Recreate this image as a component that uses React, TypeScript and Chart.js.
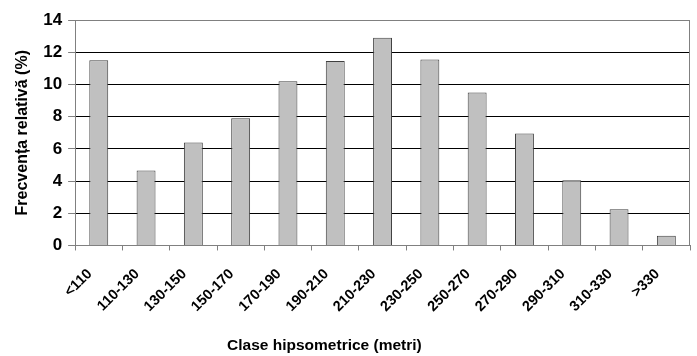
import React, { useEffect, useRef } from "react";
import { Chart, registerables } from "chart.js";

Chart.register(...registerables);

const categories = ["<110", "110-130", "130-150", "150-170", "170-190", "190-210", "210-230", "230-250", "250-270", "270-290", "290-310", "310-330", ">330"];
const frequencies = [11.5, 4.65, 6.4, 7.9, 10.2, 11.45, 12.9, 11.55, 9.5, 6.95, 4.05, 2.25, 0.6];
const yTicks = [0, 2, 4, 6, 8, 10, 12, 14];
const xTitle = "Clase hipsometrice (metri)";
const yTitle = "Frecvența relativă (%)";

const FONT = "'Liberation Sans', Arial, sans-serif";

const frame = {
  id: "frame",
  afterDraw(chart: any) {
    const { ctx, chartArea } = chart;
    ctx.save();
    ctx.strokeStyle = "#808080";
    ctx.lineWidth = 1;
    ctx.beginPath();
    ctx.moveTo(chartArea.left, chartArea.top + 0.5);
    ctx.lineTo(chartArea.right - 0.5, chartArea.top + 0.5);
    ctx.lineTo(chartArea.right - 0.5, chartArea.bottom);
    ctx.stroke();
    ctx.restore();
  },
};

export default function App() {
  const ref = useRef<HTMLCanvasElement>(null);
  useEffect(() => {
    document.body.style.margin = "0";
    const chart = new Chart(ref.current!, {
      type: "bar",
      data: {
        labels: categories,
        datasets: [
          {
            data: frequencies,
            backgroundColor: "#c0c0c0",
            borderColor: "#404040",
            borderWidth: 1,
            categoryPercentage: 1,
            barPercentage: 0.4,
          },
        ],
      },
      options: {
        animation: false,
        responsive: false,
        layout: { padding: { top: 20, right: 7, left: 13, bottom: 1 } },
        plugins: { legend: { display: false }, tooltip: { enabled: false } },
        scales: {
          x: {
            grid: { offset: true, drawOnChartArea: false, drawTicks: true, tickLength: 5, color: "#808080" },
            border: { color: "#808080" },
            ticks: {
              color: "#000",
              font: { family: FONT, size: 14.5, weight: "bold" },
              maxRotation: 45,
              minRotation: 45,
              padding: 15,
              labelOffset: -9,
            },
            title: {
              display: true,
              text: xTitle + "\u00A0".repeat(27),
              color: "#000",
              font: { family: FONT, size: 15.5, weight: "bold" },
              padding: { top: 6, bottom: 0 },
            },
          },
          y: {
            min: 0,
            max: 14,
            afterBuildTicks(scale: any) {
              scale.ticks = yTicks.map((v) => ({ value: v }));
            },
            grid: {
              color: (c: any) => (c.tick && (c.tick.value === 0 || c.tick.value === 14) ? "#808080" : "#000"),
              tickColor: "#808080",
              tickLength: 7,
            },
            border: { color: "#808080" },
            ticks: {
              color: "#000",
              font: { family: FONT, size: 17, weight: "bold" },
              padding: 6,
            },
            title: {
              display: true,
              text: yTitle,
              color: "#000",
              font: { family: FONT, size: 16, weight: "bold" },
              padding: { top: 0, bottom: 5 },
            },
          },
        },
      },
      plugins: [frame],
    } as any);
    return () => chart.destroy();
  }, []);
  return <canvas ref={ref} width={697} height={356} style={{ display: "block" }} />;
}
